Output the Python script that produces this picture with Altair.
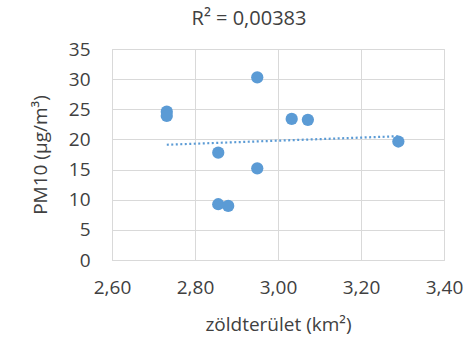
import altair as alt
import pandas as pd

# green area (km²) and PM10 concentration (µg/m³) per district
zoldterulet = [2.732, 2.732, 2.950, 3.033, 3.072, 3.290, 2.856, 2.950, 2.856, 2.880]
pm10 = [24.6, 23.9, 30.3, 23.4, 23.25, 19.65, 17.8, 15.2, 9.25, 8.97]

x_ticks = [2.6, 2.8, 3.0, 3.2, 3.4]
y_ticks = [0, 5, 10, 15, 20, 25, 30, 35]

df = pd.DataFrame({"x": zoldterulet, "y": pm10})

BLUE = "#5b9bd5"
GRID = "#d9d9d9"
FONT = "Open Sans"
TXT = "#404040"

x_enc = alt.X(
    "x:Q",
    scale=alt.Scale(domain=[2.6, 3.4], nice=False, zero=False),
    axis=alt.Axis(
        values=x_ticks,
        labelExpr="replace(format(datum.value, '.2f'), '.', ',')",
        title="zöldterület (km²)",
        grid=True,
        ticks=False,
        labelOverlap=False,
        labelFlush=False,
        labelPadding=18,
        titlePadding=18,
    ),
)
y_enc = alt.Y(
    "y:Q",
    scale=alt.Scale(domain=[0, 35], nice=False),
    axis=alt.Axis(
        values=y_ticks,
        title="PM10 (µg/m³)",
        grid=True,
        ticks=False,
        labelOverlap=False,
        labelFlush=False,
        labelPadding=22,
        titlePadding=18,
    ),
)

base = alt.Chart(df)

points = base.mark_circle(size=150, color=BLUE, opacity=1).encode(x=x_enc, y=y_enc)

# linear trend line over the data range
trend = (
    base.transform_regression("x", "y")
    .mark_line(color=BLUE, strokeWidth=2.2, strokeDash=[2, 2.5])
    .encode(x=x_enc, y=y_enc)
)

chart = (
    alt.layer(trend, points)
    .properties(
        width=332,
        height=211,
        autosize=alt.AutoSizeParams(type="none"),
        padding={"left": 112, "top": 49, "right": 22, "bottom": 77},
        title=alt.TitleParams(
            "R² = 0,00383",
            anchor="middle",
            dx=-29,
            offset=11,
            fontSize=20,
            font=FONT,
            fontWeight="normal",
            color=TXT,
        ),
    )
    .configure_view(stroke=GRID, strokeWidth=1)
    .configure_axis(
        gridColor=GRID,
        gridWidth=1,
        domainColor=GRID,
        labelFont=FONT,
        titleFont=FONT,
        labelFontSize=19,
        titleFontSize=19,
        labelColor=TXT,
        titleColor=TXT,
        titleFontWeight="normal",
    )
)

chart.save("out.html", embed_options={"renderer": "svg", "actions": False})
